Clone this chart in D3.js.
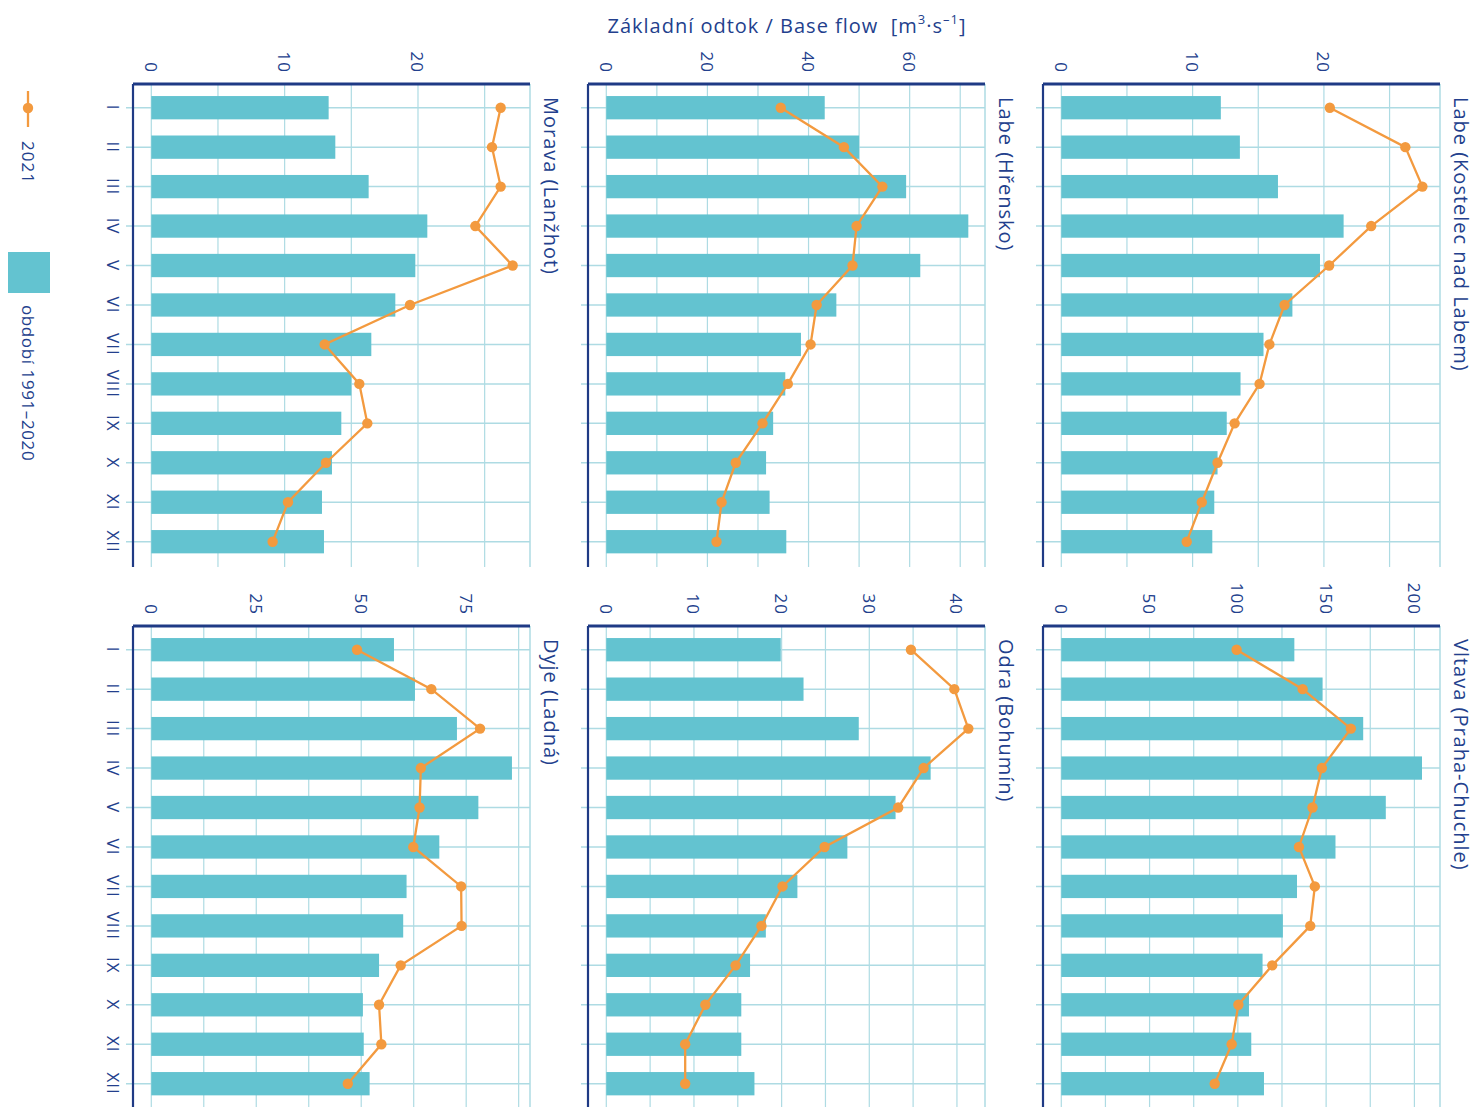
<!DOCTYPE html>
<html>
<head>
<meta charset="utf-8">
<script src="https://cdn.jsdelivr.net/npm/d3@7"></script>
<style>
  body { margin: 0; background: #fff; }
  svg { display: block; }
  text { font-family: "Open Sans", sans-serif; fill: #233f8d; }
</style>
</head>
<body>
<div class="canvas"></div>
<script>
// months (Roman numerals)
const months = ['I','II','III','IV','V','VI','VII','VIII','IX','X','XI','XII'];

// období 1991–2020 (bars) and 2021 (line), m3/s
const moravaNormal   = [13.3, 13.8, 16.3, 20.7, 19.8, 18.3, 16.5, 15.0, 14.25, 13.55, 12.8, 12.95];
const morava2021     = [26.2, 25.55, 26.2, 24.3, 27.1, 19.4, 13.0, 15.6, 16.2, 13.1, 10.25, 9.1];
const hrenskoNormal  = [43.2, 50.0, 59.3, 71.6, 62.1, 45.5, 38.5, 35.4, 33.0, 31.6, 32.3, 35.6];
const hrensko2021    = [34.5, 47.0, 54.6, 49.5, 48.7, 41.6, 40.4, 35.9, 30.9, 25.6, 22.8, 21.8];
const kostelecNormal = [12.15, 13.6, 16.5, 21.5, 19.7, 17.6, 15.4, 13.65, 12.6, 11.9, 11.65, 11.5];
const kostelec2021   = [20.45, 26.2, 27.5, 23.6, 20.4, 17.0, 15.85, 15.1, 13.2, 11.9, 10.7, 9.55];
const dyjeNormal     = [57.8, 62.8, 72.8, 85.9, 77.9, 68.6, 60.8, 60.0, 54.25, 50.4, 50.6, 52.0];
const dyje2021       = [49.0, 66.7, 78.3, 64.2, 63.9, 62.4, 73.8, 73.9, 59.4, 54.25, 54.8, 46.8];
const odraNormal     = [19.9, 22.5, 28.8, 37.0, 33.0, 27.5, 21.8, 18.2, 16.4, 15.4, 15.4, 16.9];
const odra2021       = [34.75, 39.7, 41.3, 36.2, 33.3, 24.9, 20.1, 17.7, 14.75, 11.3, 9.0, 9.0];
const vltavaNormal   = [132, 148, 171, 204.3, 183.8, 155.3, 133.5, 125.5, 114, 106.3, 107.6, 114.8];
const vltava2021     = [99.3, 136.7, 164, 147.6, 142.3, 134.6, 143.6, 141, 119.5, 100.3, 96.5, 86.9];

// tick labels per panel
const moravaTicks   = [0, 10, 20];
const hrenskoTicks  = [0, 20, 40, 60];
const kostelecTicks = [0, 10, 20];
const dyjeTicks     = [0, 25, 50, 75];
const odraTicks     = [0, 10, 20, 30, 40];
const vltavaTicks   = [0, 50, 100, 150, 200];

const panels = [
  { name: 'Morava (Lanžhot)',          row: 0, col: 0, normal: moravaNormal,   y2021: morava2021,   ticks: moravaTicks,   grid: 5,    max: 28.4 },
  { name: 'Labe (Hřensko)',            row: 0, col: 1, normal: hrenskoNormal,  y2021: hrensko2021,  ticks: hrenskoTicks,  grid: 10,   max: 74.9 },
  { name: 'Labe (Kostelec nad Labem)', row: 0, col: 2, normal: kostelecNormal, y2021: kostelec2021, ticks: kostelecTicks, grid: 5,    max: 28.84 },
  { name: 'Dyje (Ladná)',              row: 1, col: 0, normal: dyjeNormal,     y2021: dyje2021,     ticks: dyjeTicks,     grid: 12.5, max: 90.2 },
  { name: 'Odra (Bohumín)',            row: 1, col: 1, normal: odraNormal,     y2021: odra2021,     ticks: odraTicks,     grid: 5,    max: 43.2 },
  { name: 'Vltava (Praha-Chuchle)',    row: 1, col: 2, normal: vltavaNormal,   y2021: vltava2021,   ticks: vltavaTicks,   grid: 25,   max: 214.5 }
];

const colours = { bar: '#63c3d0', line: '#f39a3f', grid: '#aedbe3', axis: '#1f3a85' };
const dims = { width: 1476, height: 1107 };
const layout = { left: 133, top: 84, colStep: 455, rowStep: 542, w: 397, h: 483, zeroPad: 0.0483 };

const svg = d3.select('.canvas')
    .append('svg')
    .attr('width', dims.width)
    .attr('height', dims.height);

const rot = (x, y) => `translate(${x},${y}) rotate(90)`;

panels.forEach(p => {
    const g = svg.append('g')
        .attr('transform', `translate(${layout.left + p.col * layout.colStep}, ${layout.top + p.row * layout.rowStep})`);

    const x = d3.scaleLinear()
        .domain([-p.max * layout.zeroPad, p.max])
        .range([0, layout.w]);

    const y = d3.scalePoint()
        .domain(months)
        .range([23.7, 457.7]);

    // grid (behind bars)
    const gridVals = d3.range(0, p.max + 1e-9, p.grid);
    g.selectAll('line.vgrid')
        .data(gridVals)
        .join('line')
        .attr('class', 'vgrid')
        .attr('x1', d => x(d)).attr('x2', d => x(d))
        .attr('y1', 0).attr('y2', layout.h)
        .attr('stroke', colours.grid).attr('stroke-width', 1.2);

    g.append('line')
        .attr('x1', layout.w).attr('x2', layout.w)
        .attr('y1', 0).attr('y2', layout.h)
        .attr('stroke', colours.grid).attr('stroke-width', 1.5);

    g.selectAll('line.hgrid')
        .data(months)
        .join('line')
        .attr('class', 'hgrid')
        .attr('x1', -7).attr('x2', layout.w)
        .attr('y1', d => y(d)).attr('y2', d => y(d))
        .attr('stroke', colours.grid).attr('stroke-width', 1.5);

    // bars - období 1991-2020
    const barH = 23.3;
    g.selectAll('rect.bar')
        .data(p.normal)
        .join('rect')
        .attr('class', 'bar')
        .attr('x', x(0))
        .attr('y', (d, i) => y(months[i]) - barH / 2)
        .attr('width', d => x(d) - x(0))
        .attr('height', barH)
        .attr('fill', colours.bar);

    // 2021 line
    const line = d3.line()
        .x(d => x(d))
        .y((d, i) => y(months[i]));

    g.append('path')
        .datum(p.y2021)
        .attr('d', line)
        .attr('fill', 'none')
        .attr('stroke', colours.line)
        .attr('stroke-width', 2.3);

    g.selectAll('circle.dot')
        .data(p.y2021)
        .join('circle')
        .attr('class', 'dot')
        .attr('cx', d => x(d))
        .attr('cy', (d, i) => y(months[i]))
        .attr('r', 5.2)
        .attr('fill', colours.line);

    // axes
    g.append('line')
        .attr('x1', 0).attr('x2', layout.w)
        .attr('y1', 0).attr('y2', 0)
        .attr('stroke', colours.axis).attr('stroke-width', 3);
    g.append('line')
        .attr('x1', 0).attr('x2', 0)
        .attr('y1', 0).attr('y2', layout.h)
        .attr('stroke', colours.axis).attr('stroke-width', 2.2);

    // value tick labels
    g.selectAll('text.tick')
        .data(p.ticks)
        .join('text')
        .attr('class', 'tick')
        .attr('transform', d => rot(x(d), -11))
        .attr('text-anchor', 'end')
        .attr('dominant-baseline', 'central')
        .style('font-size', '17px')
        .style('letter-spacing', '1px')
        .text(d => d);

    // month labels only on the left column
    if (p.col === 0) {
        g.selectAll('text.month')
            .data(months)
            .join('text')
            .attr('class', 'month')
            .attr('transform', d => rot(-20, y(d)))
            .attr('text-anchor', 'middle')
            .attr('dominant-baseline', 'central')
            .style('font-size', '17px')
            .style('letter-spacing', '1px')
            .text(d => d);
    }

    // panel title
    g.append('text')
        .attr('transform', rot(layout.w + 21, 13))
        .attr('text-anchor', 'start')
        .attr('dominant-baseline', 'central')
        .style('font-size', '20px')
        .style('letter-spacing', '1px')
        .text(p.name);
});

// axis title (horizontal)
const title = svg.append('text')
    .attr('x', 787).attr('y', 33)
    .attr('text-anchor', 'middle')
    .style('font-size', '20px')
    .style('letter-spacing', '1px');
title.append('tspan').text('Základní odtok / Base flow\u00a0 [m');
title.append('tspan').attr('baseline-shift', 'super').style('font-size', '13px').text('3');
title.append('tspan').text('·s');
title.append('tspan').attr('baseline-shift', 'super').style('font-size', '13px').text('–1');
title.append('tspan').text(']');

// legend
const legend = svg.append('g');
legend.append('line')
    .attr('x1', 28).attr('x2', 28).attr('y1', 91).attr('y2', 127)
    .attr('stroke', colours.line).attr('stroke-width', 2.3);
legend.append('circle')
    .attr('cx', 28).attr('cy', 108).attr('r', 5.2)
    .attr('fill', colours.line);
legend.append('text')
    .attr('transform', rot(28, 141))
    .attr('dominant-baseline', 'central')
    .style('font-size', '17px')
    .style('letter-spacing', '1px')
    .text('2021');
legend.append('rect')
    .attr('x', 8).attr('y', 252).attr('width', 42).attr('height', 41)
    .attr('fill', colours.bar);
legend.append('text')
    .attr('transform', rot(28, 305))
    .attr('dominant-baseline', 'central')
    .style('font-size', '17px')
    .style('letter-spacing', '0.6px')
    .text('období 1991–2020');
</script>
</body>
</html>
